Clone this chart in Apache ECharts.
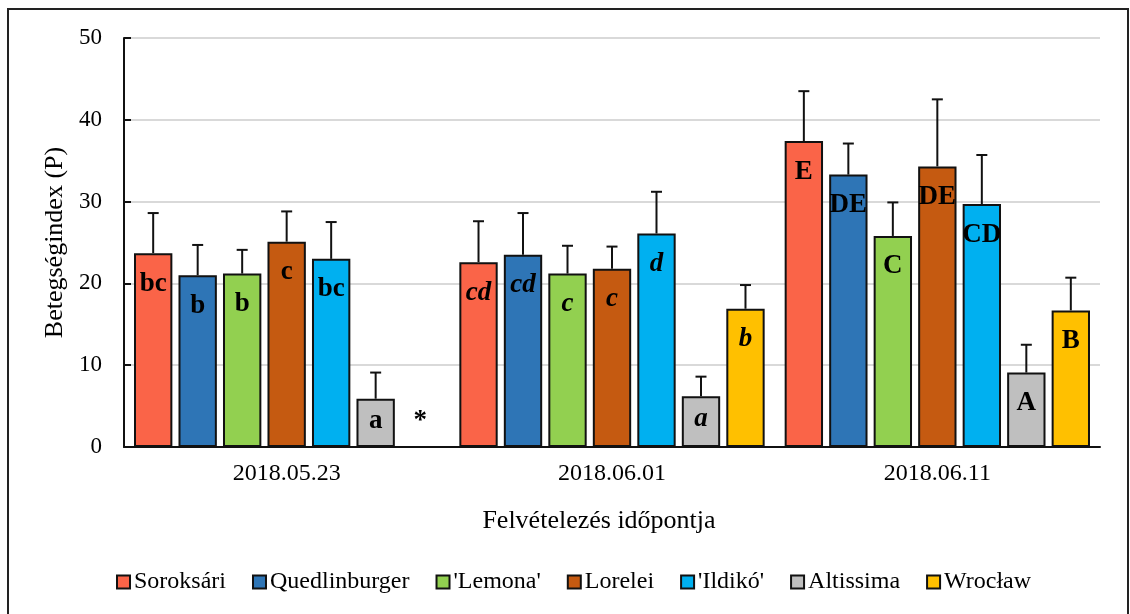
<!DOCTYPE html>
<html>
<head>
<meta charset="utf-8">
<script src="https://cdn.jsdelivr.net/npm/echarts@6/dist/echarts.min.js"></script>
<style>
  html, body { margin: 0; padding: 0; background: #fff; }
  #chart { width: 1130px; height: 614px; }
</style>
</head>
<body>
<div id="chart"></div>
<script>
// dátumok (kategóriák)
const categories = ['2018.05.23', '2018.06.01', '2018.06.11'];
const seriesNames = ['Soroksári', 'Quedlinburger', "'Lemona'", 'Lorelei', "'Ildikó'", 'Altissima', 'Wrocław'];
const seriesColors = ['#FA6448', '#2E75B6', '#92D050', '#C55A11', '#00B0F0', '#BFBFBF', '#FFC000'];

// átlagok
const soroksari = [23.7, 22.6, 37.4];
const quedlinburger = [21.0, 23.5, 33.3];
const lemona = [21.2, 21.2, 25.8];
const lorelei = [25.1, 21.8, 34.3];
const ildiko = [23.0, 26.1, 29.7];
const altissima = [5.9, 6.2, 9.1];
const wroclaw = [null, 16.9, 16.7];

// szórás (felső hibasáv)
const soroksariSd = [4.9, 5.0, 6.1];
const quedlinburgerSd = [3.7, 5.1, 3.8];
const lemonaSd = [2.9, 3.4, 4.1];
const loreleiSd = [3.7, 2.7, 8.2];
const ildikoSd = [4.5, 5.1, 6.0];
const altissimaSd = [3.2, 2.4, 3.4];
const wroclawSd = [null, 2.9, 4.0];

// szignifikancia betűk
const soroksariLetters = ['bc', 'cd', 'E'];
const quedlinburgerLetters = ['b', 'cd', 'DE'];
const lemonaLetters = ['b', 'c', 'C'];
const loreleiLetters = ['c', 'c', 'DE'];
const ildikoLetters = ['bc', 'd', 'CD'];
const altissimaLetters = ['a', 'a', 'A'];
const wroclawLetters = ['*', 'b', 'B'];

const yTicks = [0, 10, 20, 30, 40, 50];

const means = [soroksari, quedlinburger, lemona, lorelei, ildiko, altissima, wroclaw];
const sds = [soroksariSd, quedlinburgerSd, lemonaSd, loreleiSd, ildikoSd, altissimaSd, wroclawSd];
const letters = [soroksariLetters, quedlinburgerLetters, lemonaLetters, loreleiLetters, ildikoLetters, altissimaLetters, wroclawLetters];

const FONT = 'Liberation Serif';
const CAT_GAP = 0.0615;
const BAR_GAP = 0.16;

const barSeries = seriesNames.map((name, k) => ({
  name: name,
  type: 'bar',
  barCategoryGap: (CAT_GAP * 100) + '%',
  barGap: (BAR_GAP * 100) + '%',
  itemStyle: { color: seriesColors[k], borderColor: '#111', borderWidth: 2 },
  data: means[k].map((v, i) => {
    const italic = i === 1;
    if (v == null) {
      // hiányzó adat: csillag
      return {
        value: 0,
        itemStyle: { borderWidth: 0 },
        label: { show: true, position: 'top', distance: 12, formatter: letters[k][i], fontSize: 27 }
      };
    }
    return {
      value: v,
      label: {
        show: true,
        position: 'insideTop',
        distance: v < 10 && i < 2 ? 9 : 17,
        formatter: letters[k][i],
        fontStyle: italic ? 'italic' : 'normal'
      }
    };
  }),
  label: { fontFamily: FONT, fontSize: 27, fontWeight: 'bold', color: '#000' }
}));

const errData = [];
means.forEach((arr, k) => {
  arr.forEach((v, i) => {
    if (v != null) errData.push([i, v, +(v + sds[k][i]).toFixed(2), k]);
  });
});

const errSeries = {
  type: 'custom',
  name: 'err',
  z: 5,
  encode: { x: 0, y: 2 },
  data: errData,
  renderItem: function (params, api) {
    const i = api.value(0);
    const k = api.value(3);
    const band = api.size([1, 0])[0];
    const inner = band * (1 - CAT_GAP);
    const bw = inner / (7 + 6 * BAR_GAP);
    const center = api.coord([i, 0])[0];
    const x = center - inner / 2 + k * bw * (1 + BAR_GAP) + bw / 2;
    const y0 = api.coord([i, api.value(1)])[1];
    const y1 = api.coord([i, api.value(2)])[1];
    const style = { stroke: '#111', lineWidth: 2 };
    return {
      type: 'group',
      children: [
        { type: 'line', shape: { x1: x, y1: y0, x2: x, y2: y1 }, style: style },
        { type: 'line', shape: { x1: x - 5.5, y1: y1, x2: x + 5.5, y2: y1 }, style: style }
      ]
    };
  }
};

const chart = echarts.init(document.getElementById('chart'));
chart.setOption({
  backgroundColor: '#fff',
  animation: false,
  textStyle: { fontFamily: FONT, color: '#000' },
  grid: { left: 124, right: 30, top: 38, bottom: 167 },
  legend: {
    data: seriesNames,
    left: 111,
    top: 565,
    icon: 'rect',
    itemWidth: 13,
    itemHeight: 13,
    itemGap: 26,
    textStyle: { fontFamily: FONT, fontSize: 24, color: '#000', padding: [0, 0, 0, -1] }
  },
  xAxis: {
    type: 'category',
    data: categories,
    name: 'Felvételezés időpontja',
    nameLocation: 'middle',
    nameGap: 61,
    nameTextStyle: { fontFamily: FONT, fontSize: 26, color: '#000', padding: [0, 26, 0, 0] },
    axisLine: { lineStyle: { color: '#111', width: 2 } },
    axisTick: { inside: true, length: 7, lineStyle: { color: '#111', width: 2 } },
    axisLabel: { fontFamily: FONT, fontSize: 24, color: '#000', margin: 15 }
  },
  yAxis: {
    type: 'value',
    min: yTicks[0],
    max: yTicks[yTicks.length - 1],
    interval: 10,
    name: 'Betegségindex (P)',
    nameLocation: 'middle',
    nameGap: 52,
    nameTextStyle: { fontFamily: FONT, fontSize: 26, color: '#000' },
    axisLine: { show: true, lineStyle: { color: '#111', width: 2 } },
    axisTick: { show: true, inside: true, length: 7, lineStyle: { color: '#111', width: 2 } },
    axisLabel: { fontFamily: FONT, fontSize: 23, color: '#000', margin: 22 },
    splitLine: { lineStyle: { color: '#D9D9D9', width: 2 } }
  },
  graphic: [{
    type: 'rect',
    shape: { x: 8, y: 9, width: 1120, height: 640 },
    style: { fill: 'none', stroke: '#222', lineWidth: 2 },
    silent: true
  }],
  series: barSeries.concat([errSeries])
});
</script>
</body>
</html>
